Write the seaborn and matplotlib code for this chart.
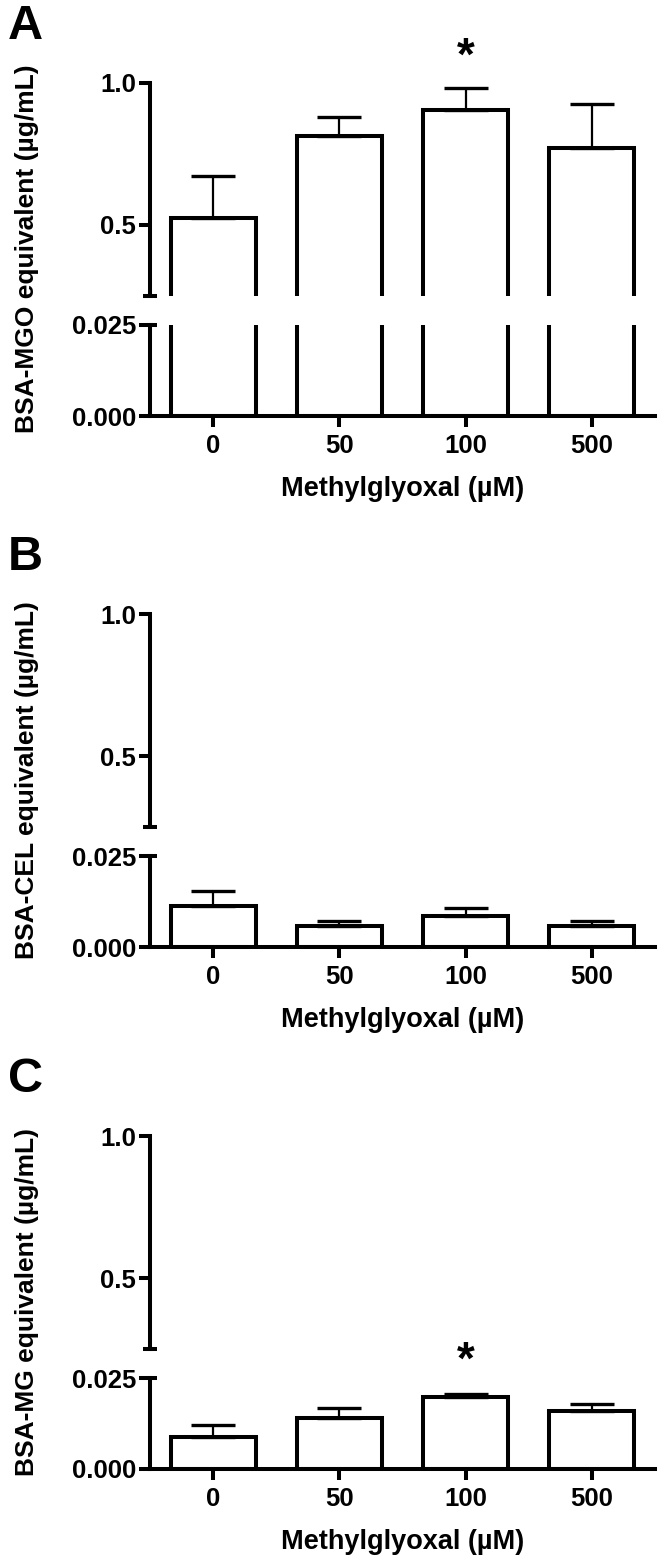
import numpy as np
import matplotlib
matplotlib.use('Agg')
import matplotlib.pyplot as plt
import seaborn as sns

# data (mean and upper SEM)
doses = ['0', '50', '100', '500']
mgo_mean = [0.525, 0.813, 0.905, 0.771]
mgo_sem = [0.147, 0.067, 0.077, 0.155]
cel_mean = [0.0113, 0.0057, 0.0085, 0.0059]
cel_sem = [0.0040, 0.0014, 0.0021, 0.0013]
mg_mean = [0.0087, 0.0139, 0.0197, 0.0160]
mg_sem = [0.0034, 0.0028, 0.0008, 0.0018]

panel_letters = ['A', 'B', 'C']
ylabels = ['BSA-MGO equivalent (µg/mL)', 'BSA-CEL equivalent (µg/mL)', 'BSA-MG equivalent (µg/mL)']
xlabel = 'Methylglyoxal (µM)'
stars = [(2, 1.088, 'upper'), None, (2, 0.0296, 'lower')]

sns.set_style('ticks')
plt.rcParams['font.family'] = ['Liberation Sans', 'DejaVu Sans']
plt.rcParams['font.weight'] = 'bold'
plt.rcParams['text.color'] = 'black'
plt.rcParams['axes.labelcolor'] = 'black'
plt.rcParams['axes.edgecolor'] = 'black'
plt.rcParams['xtick.color'] = 'black'
plt.rcParams['ytick.color'] = 'black'

W, H = 668, 1562
fig = plt.figure(figsize=(W / 100, H / 100), dpi=100)

def fy(px):
    return 1 - px / H

LW = 2.9
FS = 18.5
tops = [83, 614, 1136]
data = [(mgo_mean, mgo_sem), (cel_mean, cel_sem), (mg_mean, mg_sem)]

for i, T in enumerate(tops):
    mean, sem = data[i]
    ax_up = fig.add_axes([150 / W, fy(T + 213), 505 / W, 213 / H])
    ax_lo = fig.add_axes([150 / W, fy(T + 333), 505 / W, 91 / H])

    for ax in (ax_up, ax_lo):
        sns.barplot(x=doses, y=mean, ax=ax, color='white', saturation=1,
                    edgecolor='black', linewidth=LW, width=0.675, errorbar=None)
        ax.errorbar(x=np.arange(len(doses)), y=mean, yerr=[np.zeros(len(sem)), sem],
                    fmt='none', ecolor='black', elinewidth=1.6, capsize=16, capthick=2.4)
        ax.set_xlim(-0.5, 3.5)
        ax.set_ylabel('')
        ax.set_xlabel('')
        ax.spines['top'].set_visible(False)
        ax.spines['right'].set_visible(False)
        ax.spines['left'].set_linewidth(LW)
        ax.spines['bottom'].set_linewidth(LW)
        ax.tick_params(axis='y', width=LW, length=8, pad=2, labelsize=FS)
        ax.tick_params(axis='x', width=LW, length=8, pad=5, labelsize=FS)
        for lab in ax.get_xticklabels() + ax.get_yticklabels():
            lab.set_fontweight('bold')

    ax_up.set_ylim(0.25, 1.0)
    ax_up.set_yticks([0.5, 1.0])
    ax_up.set_yticklabels(['0.5', '1.0'], fontweight='bold')
    ax_up.spines['bottom'].set_visible(False)
    ax_up.tick_params(axis='x', bottom=False, labelbottom=False)

    ax_lo.set_ylim(0, 0.025)
    ax_lo.set_yticks([0, 0.025])
    ax_lo.set_yticklabels(['0.000', '0.025'], fontweight='bold')
    ax_lo.set_xlabel(xlabel, fontsize=19.5, fontweight='bold', labelpad=13)

    # axis break markers
    ax_up.plot([-0.013, 0.013], [0, 0], transform=ax_up.transAxes, color='black',
               lw=LW, clip_on=False, solid_capstyle='butt')
    ax_lo.plot([0, 0.013], [1, 1], transform=ax_lo.transAxes, color='black',
               lw=LW, clip_on=False, solid_capstyle='butt')

    if stars[i] is not None:
        idx, yv, which = stars[i]
        target = ax_up if which == 'upper' else ax_lo
        target.text(idx, yv, '*', ha='center', va='center', fontsize=33,
                    fontweight='bold', clip_on=False)

    fig.text(27 / W, fy(T + 166), ylabels[i], rotation=90, ha='center', va='center',
             fontsize=19, fontweight='bold')
    fig.text(8 / W, fy(T - 44), panel_letters[i], ha='left', va='baseline',
             fontsize=35, fontweight='bold')

fig.savefig('out.png', dpi=100)
